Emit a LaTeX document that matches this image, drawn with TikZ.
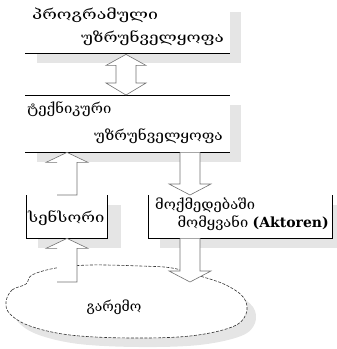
\documentclass[tikz,border=0pt]{standalone}
\usepackage{fontspec}
\setmainfont{DejaVu Serif}
\usetikzlibrary{calc,backgrounds}
\definecolor{shadowgray}{gray}{0.9}
\definecolor{arrowgray}{gray}{0.45}
\tikzset{
  boxline/.style={line width=0.8pt, black},
  shadowfill/.style={fill=shadowgray, draw=none},
  boxnode/.style={rectangle, fill=white, draw=none, inner sep=0pt, anchor=north west},
  txt/.style={inner sep=0pt, font=\fontsize{14}{16}\selectfont},
  arrowline/.style={draw=arrowgray, line width=0.6pt, line join=miter},
}
\newcommand\wide[2]{\scalebox{#1}[1]{#2}}
% vertical block arrow pointing up: #1 tail (bottom centre), #2 tip
\newcommand\BlockUp[2]{%
  \fill[white] let \p1=(#1), \p2=(#2) in
    (\x1-10pt,\y1) -- (\x1+10pt,\y1) -- (\x1+10pt,\y2-10pt) -- (\x1+21pt,\y2-10pt)
    -- (\x2,\y2) -- (\x1-21pt,\y2-10pt) -- (\x1-10pt,\y2-10pt) -- cycle;
  \draw[arrowline] let \p1=(#1), \p2=(#2) in
    (\x1-10pt,\y1) -- (\x1+10pt,\y1) -- (\x1+10pt,\y2-10pt) -- (\x1+21pt,\y2-10pt)
    -- (\x2,\y2) -- (\x1-21pt,\y2-10pt) -- (\x1-10pt,\y2-10pt);
}
% vertical block arrow pointing down: #1 tail (top centre), #2 tip
\newcommand\BlockDown[2]{%
  \fill[white] let \p1=(#1), \p2=(#2) in
    (\x1-10pt,\y1) -- (\x1-10pt,\y2+11pt) -- (\x1-21pt,\y2+11pt) -- (\x2,\y2)
    -- (\x1+21pt,\y2+11pt) -- (\x1+10pt,\y2+11pt) -- (\x1+10pt,\y1) -- cycle;
  \draw[arrowline] let \p1=(#1), \p2=(#2) in
    (\x1-10pt,\y1) -- (\x1-10pt,\y2+11pt) -- (\x1-21pt,\y2+11pt) -- (\x2,\y2)
    -- (\x1+21pt,\y2+11pt) -- (\x1+10pt,\y2+11pt) -- (\x1+10pt,\y1);
}
\begin{document}
\begin{tikzpicture}[x=1pt,y=-1pt]
\useasboundingbox (0,0) rectangle (337,349);

% boxes
\node[boxnode, minimum width=205pt, minimum height=51pt] (sw) at (25,2) {};
\node[boxnode, minimum width=205pt, minimum height=57pt] (hw) at (25,95) {};
\node[boxnode, minimum width=81pt, minimum height=43pt] (sens) at (26,195) {};
\node[boxnode, minimum width=184pt, minimum height=43pt] (act) at (148,195) {};

% shadows
\begin{scope}[on background layer]
  \fill[shadowfill] ($(sw.north west)+(12pt,-10pt)$) rectangle ($(sw.south east)+(11pt,-10pt)$);
  \fill[shadowfill] ($(hw.north west)+(12pt,-10pt)$) rectangle ($(hw.south east)+(11pt,-10pt)$);
  \fill[shadowfill] ($(sens.north west)+(12pt,-10pt)$) rectangle ($(sens.south east)+(14pt,-10pt)$);
  \fill[shadowfill] ($(act.north west)+(12pt,-10pt)$) rectangle ($(act.south east)+(14pt,-10pt)$);
  \fill[shadowfill, xshift=9pt, yshift=-9pt] plot[smooth cycle, tension=0.6] coordinates {
    (6,302) (12,290) (26,284) (32,275) (56,268) (90,265) (140,266) (172,268)
    (200,276) (226,285) (244,298) (246,314) (232,327) (190,336) (130,338)
    (70,335) (30,326) (10,314)};
\end{scope}

% box borders (only the visible sides)
\draw[boxline] (sw.south west) -- (sw.south east);
\draw[boxline] (hw.north west) -- (hw.north east);
\draw[boxline] (hw.south west) -- (hw.south east);
\draw[boxline] (sens.north west) -- (sens.south west) -- (sens.south east) -- (sens.north east);
\draw[boxline] (act.north west) -- (act.south west) -- (act.south east) -- (act.north east);

% environment cloud
\filldraw[fill=white, draw=black!80, line width=0.6pt, dash pattern=on 3pt off 1.5pt]
  plot[smooth cycle, tension=0.6] coordinates {
    (6,302) (12,290) (26,284) (32,275) (56,268) (90,265) (140,266) (172,268)
    (200,276) (226,285) (244,298) (246,314) (232,327) (190,336) (130,338)
    (70,335) (30,326) (10,314)};
\node[txt] (env) at (114,307) {გარემო};

% arrow anchors
\coordinate (colA) at (126,0);
\coordinate (colS) at (67,0);
\coordinate (colD) at (190,0);
\coordinate (envin) at (67,282);
\coordinate (envout) at (190,282);

% double arrow software <-> hardware
\fill[white] let \p1=($(sw.south -| colA)+(0,1)$), \p2=($(hw.north -| colA)$) in
  (\x1,\y1) -- (\x1+20pt,\y1-11pt) -- (\x1+10pt,\y1-11pt) -- (\x1+10pt,\y2+12pt)
  -- (\x1+20pt,\y2+12pt) -- (\x2,\y2) -- (\x1-20pt,\y2+12pt) -- (\x1-10pt,\y2+12pt)
  -- (\x1-10pt,\y1-11pt) -- (\x1-20pt,\y1-11pt) -- cycle;
\draw[arrowline] let \p1=($(sw.south -| colA)+(0,1)$), \p2=($(hw.north -| colA)$) in
  (\x1,\y1) -- (\x1+20pt,\y1-11pt) -- (\x1+10pt,\y1-11pt) -- (\x1+10pt,\y2+12pt)
  -- (\x1+20pt,\y2+12pt) -- (\x2,\y2) -- (\x1-20pt,\y2+12pt) -- (\x1-10pt,\y2+12pt)
  -- (\x1-10pt,\y1-11pt) -- (\x1-20pt,\y1-11pt) -- cycle;

% sensor -> hardware
\BlockUp{sens.north -| colS}{hw.south -| colS}
% hardware -> actuator
\BlockDown{hw.south -| colD}{act.north -| colD}
% actuator -> environment
\BlockDown{act.south -| colD}{envout}
% environment -> sensor
\BlockUp{envin}{sens.south -| colS}

% texts
\node[txt, anchor=west] (swa) at (32,15) {\wide{1.27}{პროგრამული}};
\node[txt, anchor=east] (swb) at (224,38) {\wide{1.22}{უზრუნველყოფა}};
\node[txt, anchor=west] (hwa) at (27,109) {\wide{1.06}{ტექნიკური}};
\node[txt, anchor=east] (hwb) at (223,136) {\wide{1.1}{უზრუნველყოფა}};
\node[txt, anchor=west] (sensa) at (28,218) {\wide{1.19}{სენსორი}};
\node[txt, anchor=west] (acta) at (155,205) {\wide{1.05}{მოქმედებაში}};
\node[txt, anchor=east] (actb) at (329,223) {\wide{1.05}{მომყვანი} \textbf{(Aktoren)}};
\end{tikzpicture}
\end{document}
